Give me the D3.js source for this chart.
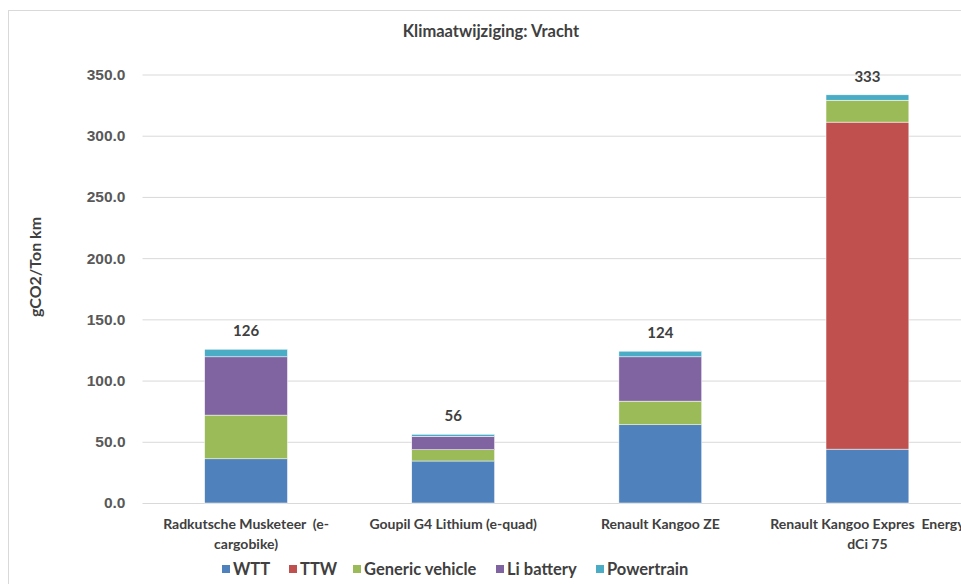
<!DOCTYPE html>
<html>
<head>
<meta charset="utf-8">
<script src="https://cdn.jsdelivr.net/npm/d3@7"></script>
<style>
    body { margin: 0; background: #fff; }
    svg { display: block; font-family: Lato, "Open Sans", "Liberation Sans", sans-serif; }
    .tick text { fill: #595959; font-weight: bold; font-size: 15.5px; }
    .x-label { fill: #404040; font-weight: bold; font-size: 14px; white-space: pre; }
    .total { fill: #404040; font-weight: bold; font-size: 15px; }
    .legend text { fill: #404040; font-weight: bold; font-size: 16.5px; }
</style>
</head>
<body>
<div id="chart"></div>
<script>
// data
const categories = [
    "Radkutsche Musketeer  (e-\ncargobike)",
    "Goupil G4 Lithium (e-quad)",
    "Renault Kangoo ZE",
    "Renault Kangoo Expres  Energy\ndCi 75"
]
const seriesNames = ["WTT", "TTW", "Generic vehicle", "Li battery", "Powertrain"]
const wtt = [36.1, 34.3, 63.9, 44.0]
const ttw = [0, 0, 0, 267.1]
const generic = [35.7, 9.2, 19.3, 17.9]
const battery = [47.6, 11.0, 36.2, 0]
const powertrain = [6.2, 1.6, 4.6, 4.4]
const yTicks = [0, 50, 100, 150, 200, 250, 300, 350]
const colors = ["#4f81bd", "#c0504d", "#9bbb59", "#8064a2", "#4bacc6"]

const width = 961
const height = 584
const margin = {top: 74.5, left: 142.5, bottom: 81, right: -10}

const rows = categories.map((c, i) => ({
    cat: c,
    "WTT": wtt[i],
    "TTW": ttw[i],
    "Generic vehicle": generic[i],
    "Li battery": battery[i],
    "Powertrain": powertrain[i]
}))

const stack = d3.stack().keys(seriesNames)(rows)

const xScale = d3.scaleBand()
    .domain(categories)
    .range([margin.left, width - margin.right])
    .paddingInner(0.6)
    .paddingOuter(0.3)

const yScale = d3.scaleLinear()
    .domain([0, 350])
    .range([height - margin.bottom, margin.top])

const color = d3.scaleOrdinal(seriesNames, colors)

const $svg = d3.select("#chart").append("svg")
    .attr("width", width)
    .attr("height", height)

// chart frame
$svg.append("rect")
    .attr("x", 8.5).attr("y", 10.5)
    .attr("width", 1000).attr("height", 600)
    .attr("fill", "none")
    .attr("stroke", "#d9d9d9")

$svg.append("text")
    .attr("x", 491).attr("y", 37)
    .attr("text-anchor", "middle")
    .attr("fill", "#404040")
    .style("font-size", "16.5px")
    .style("font-weight", "bold")
    .text("Klimaatwijziging: Vracht")

// y axis with gridlines
const yAxis = g => g.attr("transform", `translate(${margin.left}, 0)`)
    .call(d3.axisLeft(yScale).tickValues(yTicks).tickFormat(d3.format(".1f")).tickSize(-(width - margin.left - margin.right)).tickPadding(17))
    .call(g => g.select(".domain").remove())
    .call(g => g.selectAll(".tick line").attr("stroke", "#d9d9d9"))

$svg.append("g").call(yAxis)

$svg.append("text")
    .attr("transform", "translate(41, 267) rotate(-90)")
    .attr("text-anchor", "middle")
    .attr("fill", "#404040")
    .style("font-size", "16px")
    .style("font-weight", "bold")
    .text("gCO2/Ton km")

// stacked bars
$svg.selectAll(".series")
    .data(stack)
    .enter().append("g")
    .attr("class", "series")
    .attr("fill", d => color(d.key))
    .selectAll("rect")
    .data(d => d)
    .enter().append("rect")
    .attr("x", d => xScale(d.data.cat))
    .attr("width", xScale.bandwidth())
    .attr("y", d => yScale(d[1]))
    .attr("height", d => yScale(d[0]) - yScale(d[1]))
    .attr("stroke", "#fff")
    .attr("stroke-width", 0.5)

// totals
$svg.selectAll("text.total")
    .data(rows)
    .enter().append("text")
    .attr("class", "total")
    .attr("text-anchor", "middle")
    .attr("x", d => xScale(d.cat) + xScale.bandwidth() / 2)
    .attr("y", d => yScale(d3.sum(seriesNames, k => d[k])) - 13)
    .text(d => Math.round(d3.sum(seriesNames, k => d[k])))

// category labels
const $labels = $svg.selectAll("text.x-label")
    .data(categories)
    .enter().append("text")
    .attr("class", "x-label")
    .attr("text-anchor", "middle")
    .attr("x", d => xScale(d) + xScale.bandwidth() / 2)
    .attr("y", yScale(0) + 26)

$labels.selectAll("tspan")
    .data(d => d.split("\n"))
    .enter().append("tspan")
    .attr("x", function() { return this.parentNode.getAttribute("x") })
    .attr("dy", (d, i) => i ? 20 : 0)
    .text(d => d)

// legend
const legendX = [222, 289, 353, 496, 596]
const $legend = $svg.append("g").attr("class", "legend")
const $items = $legend.selectAll("g")
    .data(seriesNames)
    .enter().append("g")
    .attr("transform", (d, i) => `translate(${legendX[i]}, 569)`)

$items.append("rect")
    .attr("y", -4)
    .attr("width", 8).attr("height", 8)
    .attr("fill", d => color(d))

$items.append("text")
    .attr("x", 11)
    .attr("y", 6)
    .text(d => d)
</script>
</body>
</html>
